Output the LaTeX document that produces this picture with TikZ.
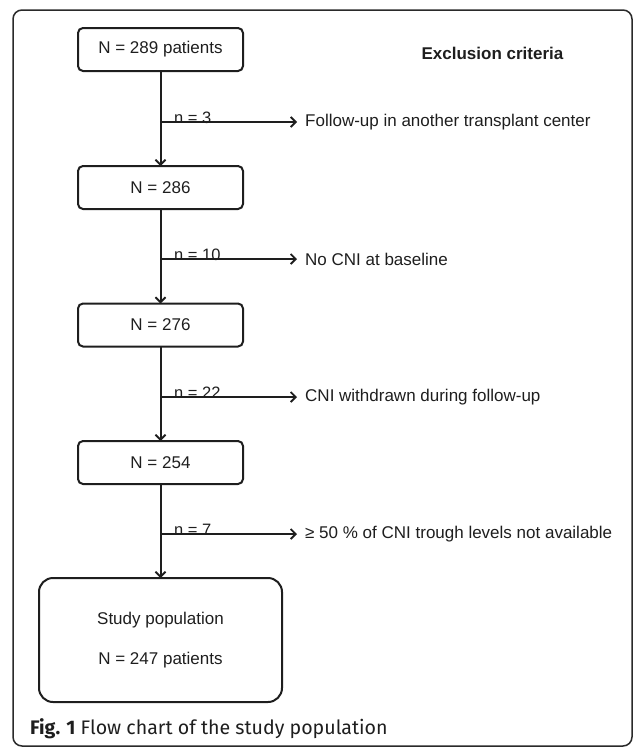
\documentclass[tikz,border=0pt]{standalone}
\usepackage{fontspec}
\setmainfont{Liberation Sans}
\newfontfamily\capfont{Fira Sans}
\usetikzlibrary{arrows.meta}
\definecolor{ink}{HTML}{1E1E1E}
\definecolor{framec}{HTML}{2A2A2A}
\tikzset{
  stagebox/.style={draw=ink, line width=2pt, rounded corners=5pt, minimum width=165pt, minimum height=43pt, inner sep=0pt, outer sep=0pt, text=ink, font=\fontsize{17}{20}\selectfont},
  finalbox/.style={draw=ink, line width=2pt, rounded corners=14pt, minimum width=243pt, minimum height=124pt, inner sep=0pt, outer sep=0pt, text=ink, font=\fontsize{17}{20}\selectfont, align=center},
  flow/.style={draw=ink, line width=2pt, -{Straight Barb[length=5pt,width=10pt,line width=1.8pt]}},
  exlabel/.style={anchor=west, inner sep=0pt, text=ink, font=\fontsize{17}{20}\selectfont},
  nlabel/.style={anchor=base west, inner sep=0pt, text=ink, font=\fontsize{16.5}{20}\selectfont},
}
\begin{document}
\begin{tikzpicture}[x=1pt, y=-1pt]
\useasboundingbox (0,0) rectangle (633,747);
\draw[framec, line width=1.5pt, rounded corners=9pt] (13,10) rectangle (632,746);
% boxes
\node[stagebox] (b1) at (160.5,49.5) {N = 289 patients};
\node[stagebox] (b2) at (160.5,187.5) {N = 286};
\node[stagebox] (b3) at (160.5,325) {N = 276};
\node[stagebox] (b4) at (160.5,462.5) {N = 254};
\node[finalbox] (b5) at (160.5,640) {};
\node[text=ink, font=\fontsize{17}{20}\selectfont, inner sep=0pt] (sp) at (160.5,620) {Study population};
\node[text=ink, font=\fontsize{17}{20}\selectfont, inner sep=0pt] (sn) at (160.5,660) {N = 247 patients};
\node[font=\bfseries\fontsize{17}{20}\selectfont, text=ink, inner sep=0pt] (ex) at (492.5,53) {Exclusion criteria};
% branch points
\coordinate (j1) at (160.5,122);
\coordinate (j2) at (160.5,259);
\coordinate (j3) at (160.5,397);
\coordinate (j4) at (160.5,534);
% exclusion texts
\node[exlabel] (e1) at (305,122) {Follow-up in another transplant center};
\node[exlabel] (e2) at (305,259) {No CNI at baseline};
\node[exlabel] (e3) at (305,397) {CNI withdrawn during follow-up};
\node[exlabel] (e4) at (305,534) {≥ 50 \% of CNI trough levels not available};
% n labels
\node[nlabel] (n1) at (174,123) {n = 3};
\node[nlabel] (n2) at (174,260) {n = 10};
\node[nlabel] (n3) at (174,398) {n = 22};
\node[nlabel] (n4) at (174,535) {n = 7};
% connectors
\draw[flow] (b1.south) -- (b2.north);
\draw[flow] (b2.south) -- (b3.north);
\draw[flow] (b3.south) -- (b4.north);
\draw[flow] (b4.south) -- (b5.north);
\draw[flow] (j1) -- ([xshift=-8pt]e1.west);
\draw[flow] (j2) -- ([xshift=-8pt]e2.west);
\draw[flow] (j3) -- ([xshift=-8pt]e3.west);
\draw[flow] (j4) -- ([xshift=-8pt]e4.west);
% caption
\node[anchor=base west, inner sep=0pt, text=ink, font=\capfont\fontsize{19.6}{23}\selectfont] (cap) at (30,734) {\textbf{Fig. 1} Flow chart of the study population};
\end{tikzpicture}
\end{document}
